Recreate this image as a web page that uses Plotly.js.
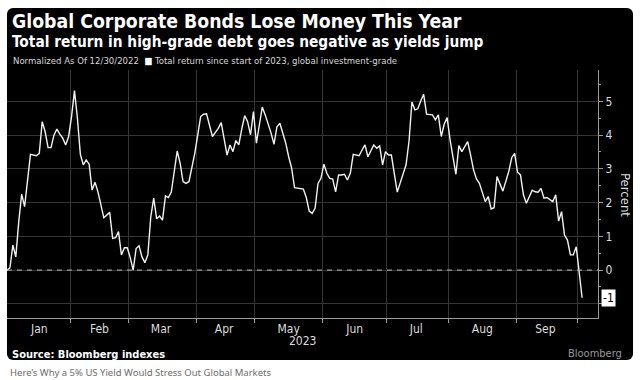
<!DOCTYPE html>
<html>
<head>
<meta charset="utf-8">
<script src="https://cdn.plot.ly/plotly-3.0.1.min.js"></script>
<style>
  html, body { margin: 0; padding: 0; background: #ffffff; width: 640px; height: 380px; overflow: hidden; }
  #panel { position: absolute; left: 7px; top: 8px; width: 626px; height: 352px; background: #000; border-radius: 6px; }
  #chart { position: absolute; left: 0; top: 0; width: 640px; height: 380px; }
</style>
</head>
<body>
<div id="panel"></div>
<div id="chart"></div>
<script>
// ---- Data ----
const dates = [
  '2022-12-30','2023-01-03','2023-01-04','2023-01-05','2023-01-06','2023-01-09','2023-01-10','2023-01-12',
  '2023-01-16','2023-01-17','2023-01-18','2023-01-19','2023-01-20','2023-01-23','2023-01-24','2023-01-25',
  '2023-01-26','2023-01-27','2023-01-30','2023-01-31','2023-02-01','2023-02-02','2023-02-03','2023-02-06',
  '2023-02-07','2023-02-08','2023-02-09','2023-02-10','2023-02-13','2023-02-14','2023-02-16','2023-02-20',
  '2023-02-21','2023-02-22','2023-02-23','2023-02-24','2023-02-27','2023-02-28','2023-03-01','2023-03-02',
  '2023-03-03','2023-03-06','2023-03-07','2023-03-08','2023-03-09','2023-03-10','2023-03-13','2023-03-14',
  '2023-03-15','2023-03-16','2023-03-17','2023-03-20','2023-03-21','2023-03-23','2023-03-24','2023-03-27',
  '2023-03-28','2023-03-29','2023-03-31','2023-04-04','2023-04-05','2023-04-06','2023-04-10','2023-04-12',
  '2023-04-13','2023-04-14','2023-04-17','2023-04-18','2023-04-19','2023-04-20','2023-04-21','2023-04-24',
  '2023-04-25','2023-04-26','2023-04-27','2023-04-28','2023-05-01','2023-05-02','2023-05-03','2023-05-04',
  '2023-05-05','2023-05-08','2023-05-09','2023-05-10','2023-05-11','2023-05-15','2023-05-16','2023-05-17',
  '2023-05-18','2023-05-22','2023-05-23','2023-05-24','2023-05-25','2023-05-26','2023-05-29','2023-05-30',
  '2023-05-31','2023-06-01','2023-06-02','2023-06-05','2023-06-06','2023-06-07','2023-06-08','2023-06-09',
  '2023-06-12','2023-06-13','2023-06-14','2023-06-15','2023-06-19','2023-06-20','2023-06-21','2023-06-22',
  '2023-06-23','2023-06-26','2023-06-27','2023-06-28','2023-06-29','2023-06-30','2023-07-03','2023-07-04',
  '2023-07-06','2023-07-11','2023-07-12','2023-07-13','2023-07-14','2023-07-17','2023-07-18','2023-07-19',
  '2023-07-20','2023-07-24','2023-07-25','2023-07-26','2023-07-27','2023-07-28','2023-07-31','2023-08-01',
  '2023-08-03','2023-08-04','2023-08-07','2023-08-09','2023-08-10','2023-08-11','2023-08-14','2023-08-15',
  '2023-08-17','2023-08-18','2023-08-21','2023-08-22','2023-08-23','2023-08-24','2023-08-25','2023-08-29',
  '2023-08-30','2023-08-31','2023-09-01','2023-09-04','2023-09-05','2023-09-06','2023-09-07','2023-09-08',
  '2023-09-11','2023-09-12','2023-09-13','2023-09-14','2023-09-15','2023-09-18','2023-09-19','2023-09-20',
  '2023-09-21','2023-09-22','2023-09-25','2023-09-26','2023-09-27','2023-09-28','2023-09-29','2023-10-03'
];
const totalReturn = [
  0.00, 0.07, 0.74, 0.39, 1.43, 2.25, 1.88, 3.43,
  3.39, 3.46, 4.40, 4.10, 3.63, 3.63, 4.00, 4.18,
  4.03, 3.91, 3.71, 3.96, 4.55, 5.32, 4.50, 3.43,
  3.12, 3.26, 3.14, 2.37, 2.60, 2.32, 1.55, 1.71,
  0.94, 0.96, 1.14, 0.45, 0.66, 0.66, 0.37, 0.00,
  0.64, 0.72, 0.39, 0.22, 0.45, 1.58, 2.13, 1.52,
  1.60, 1.48, 2.20, 2.15, 2.31, 3.53, 3.17, 2.62,
  2.57, 2.62, 3.46, 4.55, 4.62, 4.63, 3.96, 4.20,
  4.37, 3.91, 3.41, 3.71, 3.51, 3.84, 3.71, 4.18,
  4.58, 4.40, 4.01, 4.70, 3.76, 4.30, 4.83, 4.60,
  4.35, 4.06, 3.73, 4.25, 4.35, 3.76, 3.36, 3.02,
  2.44, 2.40, 2.40, 2.15, 1.75, 1.68, 1.83, 2.57,
  2.72, 3.14, 2.87, 2.72, 2.70, 2.32, 2.82, 2.82,
  2.84, 2.67, 2.87, 3.43, 3.39, 3.56, 3.71, 3.36,
  3.53, 3.71, 3.61, 3.68, 3.12, 3.51, 3.41, 3.41,
  2.31, 3.12, 3.81, 4.98, 4.75, 4.78, 5.01, 5.21,
  4.62, 4.60, 4.45, 4.60, 3.96, 4.32, 4.52, 3.86,
  2.84, 3.69, 3.51, 3.81, 3.41, 2.97, 2.70, 2.57,
  2.03, 2.18, 1.81, 1.85, 2.77, 2.57, 2.34, 2.92,
  3.33, 3.46, 2.90, 2.82, 2.23, 1.98, 2.18, 2.37,
  2.32, 2.31, 2.42, 2.13, 2.15, 2.08, 2.03, 2.23,
  1.45, 1.73, 1.04, 0.89, 0.45, 0.45, 0.69, -0.82
];
const monthLabels = ['Jan','Feb','Mar','Apr','May','Jun','Jul','Aug','Sep'];
const yTicks = [-1, 0, 1, 2, 3, 4, 5];

// ---- Axis configuration (label centres and month boundaries on the business-day axis) ----
const monthLabelPos = ['2023-01-17','2023-02-14 12:00','2023-03-15 12:00','2023-04-14','2023-05-16',
                       '2023-06-15 12:00','2023-07-14 12:00','2023-08-16','2023-09-14 12:00'];
const monthBounds = ['2023-01-31 12:00','2023-02-28 12:00','2023-03-31 12:00','2023-04-28 12:00',
                     '2023-05-31 12:00','2023-06-30 12:00','2023-07-31 12:00','2023-08-31 12:00','2023-09-29 12:00'];

const L = 7, R = 598, T = 70, B = 318;
const px = p => (p - L) / (R - L);
const py = p => (B - p) / (B - T);
const FONT = "'DejaVu Sans Condensed', 'Liberation Sans Narrow', 'Roboto Condensed', 'Liberation Sans', sans-serif";
const gridCol = '#353535';
const axisCol = '#9a9a9a';
const lastVal = totalReturn[totalReturn.length - 1];
const lastLabel = String(Math.round(lastVal));

const trace = {
  x: dates, y: totalReturn, type: 'scatter', mode: 'lines',
  line: { color: '#f2f2f2', width: 1.4 }, hoverinfo: 'skip', showlegend: false
};

const layout = {
  width: 640, height: 380, autosize: false,
  margin: { l: L, r: 640 - R, t: T, b: 380 - B, pad: 0 },
  paper_bgcolor: 'rgba(0,0,0,0)', plot_bgcolor: '#000',
  font: { family: FONT, color: '#dddddd', size: 12 },
  showlegend: false,
  xaxis: {
    type: 'date',
    range: ['2022-12-30', '2023-10-10 10:00'],
    rangebreaks: [{ bounds: ['sat', 'mon'] }, { values: ['2023-01-02'] }],
    tickmode: 'array', tickvals: monthLabelPos, ticktext: monthLabels,
    ticks: '', showgrid: false, zeroline: false,
    showline: true, linecolor: axisCol, linewidth: 1,
    tickfont: { family: FONT, size: 12, color: '#dddddd' },
    minor: { tickmode: 'array', tickvals: monthBounds, ticks: 'outside', ticklen: 4, tickcolor: axisCol,
             showgrid: true, gridcolor: gridCol, gridwidth: 1 },
    fixedrange: true
  },
  yaxis: {
    side: 'right', range: [-1.42, 5.93],
    tickmode: 'array', tickvals: yTicks,
    // the lowest label is covered by the last-value tag, as in the reference
    ticktext: yTicks.map(v => (String(v) === lastLabel ? '' : String(v))),
    ticks: 'outside', ticklen: 4, tickcolor: axisCol,
    showgrid: true, gridcolor: gridCol, gridwidth: 1, zeroline: false,
    showline: true, linecolor: axisCol, linewidth: 1,
    tickfont: { family: FONT, size: 12, color: '#dddddd' },
    minor: { dtick: 0.5, tick0: 0, ticks: 'outside', ticklen: 2, tickcolor: axisCol, showgrid: false },
    fixedrange: true
  },
  shapes: [
    { type: 'line', xref: 'paper', x0: 0, x1: 1, yref: 'y', y0: 0, y1: 0,
      line: { color: '#bdbdbd', width: 1, dash: '5px,5px' }, layer: 'above' }
  ],
  annotations: [
    { text: '<b>Global Corporate Bonds Lose Money This Year</b>', xref: 'paper', yref: 'paper',
      x: px(10), y: py(21), xanchor: 'left', yanchor: 'middle', showarrow: false,
      font: { family: FONT, size: 19.3, color: '#ffffff' } },
    { text: '<b>Total return in high-grade debt goes negative as yields jump</b>', xref: 'paper', yref: 'paper',
      x: px(10), y: py(42), xanchor: 'left', yanchor: 'middle', showarrow: false,
      font: { family: FONT, size: 15.3, color: '#ffffff' } },
    { text: 'Normalized As Of 12/30/2022  <span style="color:#ffffff">■</span> Total return since start of 2023, global investment-grade',
      xref: 'paper', yref: 'paper', x: px(11), y: py(61), xanchor: 'left', yanchor: 'middle', showarrow: false,
      font: { family: FONT, size: 9.5, color: '#d8d8d8' } },
    { text: 'Percent', xref: 'paper', yref: 'paper', x: px(626), y: py(195), xanchor: 'center', yanchor: 'middle',
      textangle: 90, showarrow: false, font: { family: FONT, size: 13, color: '#dddddd' } },
    { text: '2023', xref: 'paper', yref: 'paper', x: 0.5, y: py(341), xanchor: 'center', yanchor: 'middle',
      showarrow: false, font: { family: FONT, size: 12, color: '#dddddd' } },
    { text: '<b>Source: Bloomberg indexes</b>', xref: 'paper', yref: 'paper', x: px(10), y: py(354),
      xanchor: 'left', yanchor: 'middle', showarrow: false, font: { family: FONT, size: 11, color: '#ffffff' } },
    { text: 'Bloomberg', xref: 'paper', yref: 'paper', x: px(624), y: py(353),
      xanchor: 'right', yanchor: 'middle', showarrow: false, font: { family: FONT, size: 11, color: '#9a9a9a' } },
    { text: lastLabel, xref: 'paper', yref: 'y', x: 1, y: lastVal, xshift: 3,
      xanchor: 'left', yanchor: 'middle', showarrow: false, bgcolor: '#ffffff', borderpad: 1,
      font: { family: FONT, size: 12, color: '#000000' } },
    { text: 'Here\u2019s Why a 5% US Yield Would Stress Out Global Markets', xref: 'paper', yref: 'paper',
      x: px(8), y: py(372), xanchor: 'left', yanchor: 'middle', showarrow: false,
      font: { family: "'Noto Sans', 'Open Sans', sans-serif", size: 9.5, color: '#6b6b6b' } }
  ]
};

Plotly.newPlot('chart', [trace], layout, { staticPlot: true, displayModeBar: false });
</script>
</body>
</html>
